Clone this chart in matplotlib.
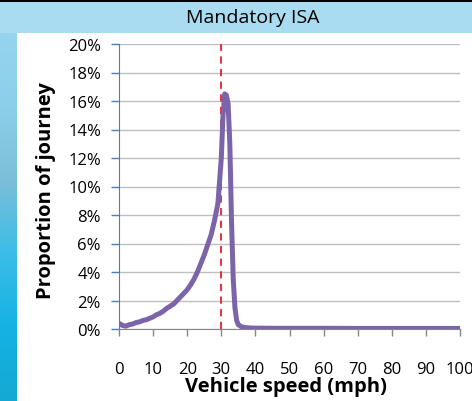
import numpy as np
import matplotlib.pyplot as plt
from matplotlib.patches import Rectangle
from matplotlib.colors import LinearSegmentedColormap
from matplotlib.ticker import PercentFormatter

speed = [0, 1, 2, 3, 4, 5, 6, 7, 8, 9, 10, 11, 12, 13, 14, 15, 16, 17, 18, 19,
         20, 21, 22, 23, 24, 25, 26, 27, 28, 29, 30, 30.5, 31, 31.5, 32, 32.5,
         33, 33.5, 34, 34.5, 35, 36, 37, 38, 40, 45, 50, 60, 70, 80, 90, 100]
proportion = [0.4, 0.25, 0.2, 0.3, 0.35, 0.45, 0.5, 0.6, 0.65, 0.75, 0.85, 1.0,
              1.1, 1.25, 1.45, 1.6, 1.75, 2.0, 2.25, 2.5, 2.75, 3.1, 3.5, 4.0,
              4.6, 5.2, 5.9, 6.6, 7.6, 8.8, 12.0, 15.0, 16.5, 16.4, 15.8, 13.0,
              7.5, 3.5, 1.5, 0.6, 0.3, 0.15, 0.1, 0.08, 0.06, 0.05, 0.05, 0.05,
              0.04, 0.04, 0.04, 0.04]
limit = 30

plt.rcParams['font.family'] = ['Open Sans', 'DejaVu Sans']

W, H = 472, 402
fig = plt.figure(figsize=(W / 100, H / 100), dpi=100)
fig.patch.set_facecolor('white')

# background: top bar, left gradient strip, black top line
fig.patches.append(Rectangle((0, 1 - 34 / H), 1, 31 / H, transform=fig.transFigure,
                             facecolor='#a9dcf1', edgecolor='none', zorder=0))
fig.patches.append(Rectangle((0, 1 - 3 / H), 1, 3 / H, transform=fig.transFigure,
                             facecolor='black', edgecolor='none', zorder=0))
bg = fig.add_axes([0, 0, 17 / W, 1 - 34 / H])
grad = np.linspace(0, 1, 256).reshape(-1, 1)
cmap = LinearSegmentedColormap.from_list(
    'strip', ['#16a8d4', '#14b2e3', '#3bbde8', '#7bbfd8', '#8ccfea', '#97d4ee'])
bg.imshow(grad, aspect='auto', cmap=cmap, origin='lower')
bg.set_axis_off()

fig.text(253 / W, 1 - 18 / H, 'Mandatory ISA', ha='center', va='center', fontsize=14)

ax = fig.add_axes([119 / W, 1 - 330 / H, (460 - 119) / W, (330 - 45) / H])
ax.plot(speed, proportion, color='#7b64a8', linewidth=3.6, solid_capstyle='round', zorder=3)
ax.axvline(limit, color='#e8202a', linestyle=(0, (4, 3)), linewidth=1.3, zorder=2)

ax.set_xlim(0, 100)
ax.set_ylim(0, 20)
ax.set_xticks(range(0, 101, 10))
ax.set_yticks(range(0, 21, 2))
ax.yaxis.set_major_formatter(PercentFormatter(decimals=0))
ax.grid(axis='y', color='#bfbfbf', linewidth=1)
ax.set_axisbelow(True)

for s in ['top', 'right']:
    ax.spines[s].set_visible(False)
ax.spines['left'].set_color('#4a7ebb')
ax.spines['bottom'].set_color('#868686')
ax.tick_params(axis='y', colors='#4a7ebb', length=6, width=1, labelcolor='black',
               labelsize=12, pad=7)
ax.tick_params(axis='x', colors='#868686', length=5, width=1, labelcolor='black',
               labelsize=12, pad=18)

ax.set_xlabel('Vehicle speed (mph)', fontsize=14.5, fontweight='bold')
ax.set_ylabel('Proportion of journey', fontsize=14.5, fontweight='bold')
ax.xaxis.set_label_coords((286 - 119) / 341, -(387 - 330) / 285)
ax.yaxis.set_label_coords((46 - 119) / 341, (330 - 191) / 285)
ax.xaxis.label.set_va('center')
ax.yaxis.label.set_va('center')

fig.savefig('out.png', dpi=100)
